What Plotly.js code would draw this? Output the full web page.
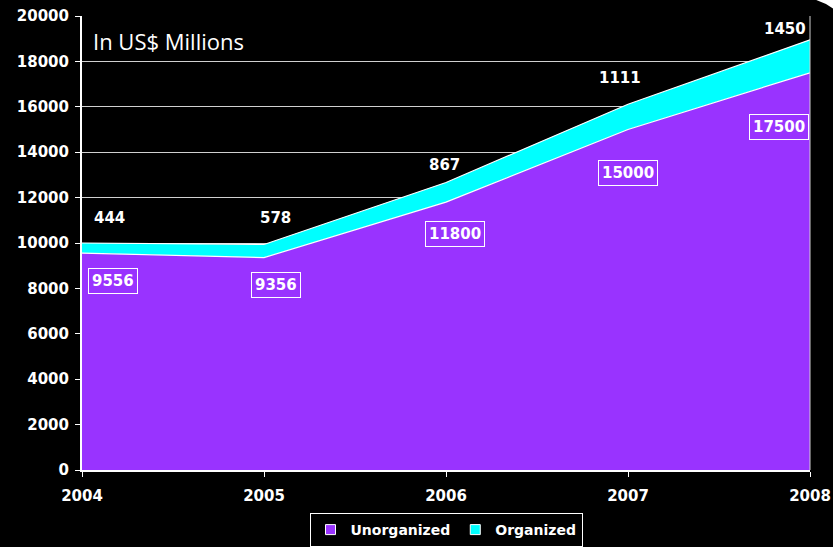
<!DOCTYPE html>
<html><head><meta charset="utf-8">
<script src="https://cdn.plot.ly/plotly-3.0.1.min.js"></script>
<style>html,body{margin:0;padding:0;background:#000;}</style>
</head><body>
<div id="chart" style="width:833px;height:547px;"></div>
<script>
const years = [2004, 2005, 2006, 2007, 2008];
const unorganized = [9556, 9356, 11800, 15000, 17500];
const organized = [444, 578, 867, 1111, 1450];
const yTicks = [0, 2000, 4000, 6000, 8000, 10000, 12000, 14000, 16000, 18000, 20000];
const seriesNames = ['Unorganized', 'Organized'];
const seriesColors = ['#9933FF', '#00FFFF'];

// label offsets (styling only)
const unorgShift = [[31,-28],[12,-27],[9,-32],[0,-43],[-31,-54]];
const orgShift = [[27,25],[11,27],[-2,17],[-8,26],[-25,11]];

const font = 'DejaVu Sans, Verdana, sans-serif';
const traces = [
  {x: years, y: unorganized, name: seriesNames[0], type: 'scatter', mode: 'lines', showlegend: false,
   stackgroup: 'one', fillcolor: seriesColors[0], line: {color: '#FFFFFF', width: 1.2}},
  {x: years, y: organized, name: seriesNames[1], type: 'scatter', mode: 'lines', showlegend: false,
   stackgroup: 'one', fillcolor: seriesColors[1], line: {color: '#FFFFFF', width: 1.2}}
];
// legend-only entries with square swatches
seriesNames.forEach((n, i) => {
  traces.push({x: [null], y: [null], name: n, type: 'scatter', mode: 'markers', showlegend: true,
    marker: {symbol: 'square', size: 10, color: seriesColors[i], line: {color: '#FFFFFF', width: 1}}});
});

const annotations = [];
years.forEach((yr, i) => {
  annotations.push({x: yr, y: unorganized[i], xref: 'x', yref: 'y', text: String(unorganized[i]),
    showarrow: false, xshift: unorgShift[i][0], yshift: unorgShift[i][1],
    font: {family: font, size: 15, color: '#FFFFFF', weight: 'bold'}, bordercolor: '#FFFFFF', borderwidth: 1, borderpad: 3});
  annotations.push({x: yr, y: unorganized[i] + organized[i], xref: 'x', yref: 'y', text: String(organized[i]),
    showarrow: false, xshift: orgShift[i][0], yshift: orgShift[i][1],
    font: {family: font, size: 15, color: '#FFFFFF', weight: 'bold'}});
});
annotations.push({xref: 'paper', yref: 'paper', x: 0.012, y: 0.945, xanchor: 'left', yanchor: 'middle',
  text: 'In US$ Millions', showarrow: false, font: {family: 'Open Sans, sans-serif', size: 22, color: '#FFFFFF'}});

const layout = {
  width: 833, height: 547,
  paper_bgcolor: '#000000', plot_bgcolor: '#000000',
  margin: {l: 82, r: 23, t: 16, b: 77},
  font: {family: font, color: '#FFFFFF', size: 13},
  xaxis: {range: [2004, 2008], tickvals: years, ticktext: years.map(String),
    showgrid: false, zeroline: false, showline: true, linecolor: '#FFFFFF', linewidth: 2,
    ticks: 'outside', ticklen: 5, tickcolor: '#FFFFFF', ticklabelstandoff: 6,
    tickfont: {family: font, size: 15, color: '#FFFFFF', weight: 'bold'}},
  yaxis: {range: [0, 20000], tickvals: yTicks, ticktext: yTicks.map(String),
    showgrid: true, gridcolor: '#D0D0D0', gridwidth: 1, zeroline: false,
    showline: true, linecolor: '#FFFFFF', linewidth: 2, mirror: false,
    ticks: 'outside', ticklen: 5, tickcolor: '#FFFFFF', ticklabelstandoff: 3,
    tickfont: {family: font, size: 15, color: '#FFFFFF', weight: 'bold'}},
  showlegend: true,
  legend: {orientation: 'h', x: 0.5, xanchor: 'center', yref: 'container', y: -0.016, yanchor: 'bottom',
    bgcolor: '#000000', bordercolor: '#FFFFFF', borderwidth: 1, tracegroupgap: 0,
    font: {family: font, size: 14, color: '#FFFFFF', weight: 'bold'}, itemwidth: 30, traceorder: 'normal'},
  annotations: annotations,
  shapes: [
    {type: 'line', xref: 'paper', yref: 'paper', x0: 1, x1: 1, y0: 0, y1: 1, line: {color: '#D0D0D0', width: 1}},
    {type: 'path', xref: 'paper', yref: 'paper', path: 'M 0.995 1.04 L 1.04 1.04 L 1.04 1.005 Q 1.02 1.035 0.995 1.04 Z',
     fillcolor: '#FFFFFF', line: {width: 0}, layer: 'above'}
  ]
};

Plotly.newPlot('chart', traces, layout, {displayModeBar: false, staticPlot: true});
</script>
</body></html>
